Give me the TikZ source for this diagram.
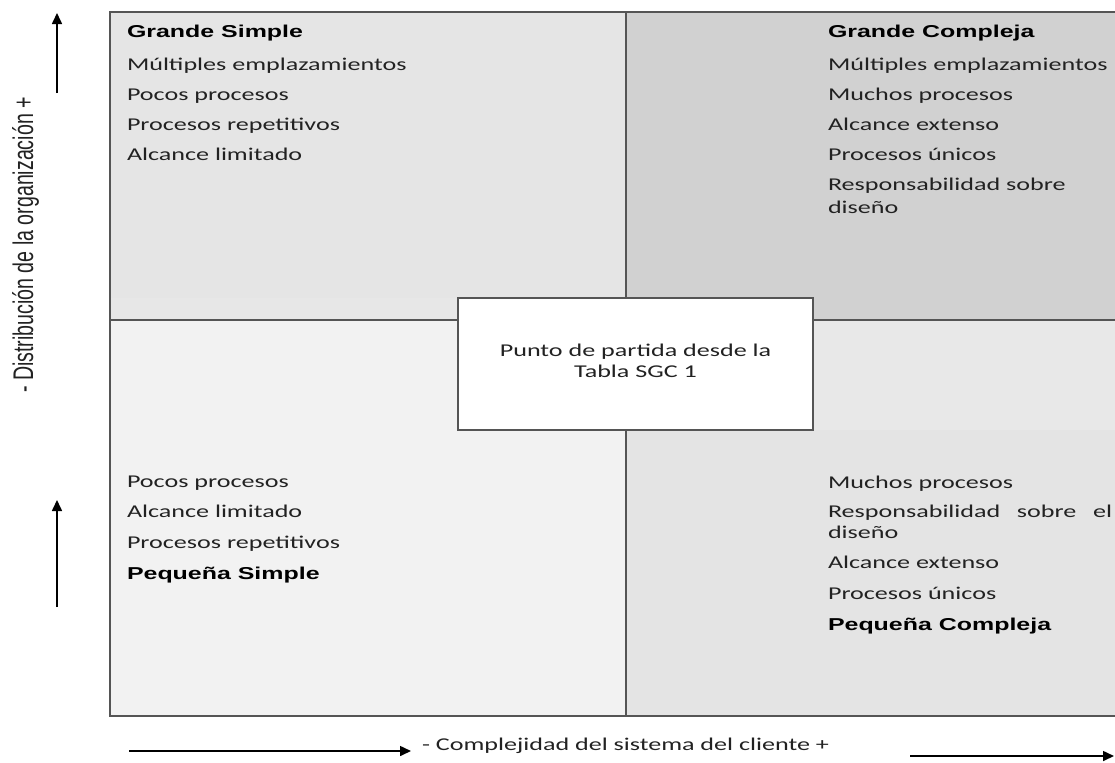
\documentclass[tikz,border=0pt]{standalone}
\usepackage{fontspec}
\setmainfont{Carlito}
\newfontfamily\headfont{Liberation Sans}
\newfontfamily\axisfont{Liberation Sans}
\usetikzlibrary{arrows.meta}
\definecolor{txtgray}{HTML}{222222}
\definecolor{linegray}{HTML}{555555}
\definecolor{ulgray}{HTML}{E5E5E5}
\definecolor{ulband}{HTML}{E7E7E7}
\definecolor{urgray}{HTML}{D1D1D1}
\definecolor{llgray}{HTML}{F2F2F2}
\definecolor{lrband}{HTML}{E8E8E8}
\definecolor{lrgray}{HTML}{E4E4E4}

\begin{document}
\begin{tikzpicture}[x=0.5pt, y=-0.5pt]
			\tikzstyle{every node}=[inner sep=0pt, outer sep=0pt]
			\tikzstyle{item}=[anchor=base west, xscale=1.45, transform shape, text=txtgray, font=\fontsize{9}{10.5}\selectfont]
			\tikzstyle{head}=[anchor=base west, xscale=1.45, transform shape, text=black, font=\headfont\bfseries\fontsize{8.6}{10}\selectfont]
			\tikzstyle{frame}=[draw=linegray, line width=1pt]
			\tikzstyle{axarrow}=[line width=0.8pt, -{Triangle[length=5.5pt, width=5pt]}]
			\useasboundingbox (0,0) rectangle (1115,762);
			% quadrants
			\fill[ulgray] (110,12) rectangle (626,298);
			\fill[ulband] (110,298) rectangle (626,320);
			\fill[urgray] (626,12) rectangle (1115,320);
			\fill[llgray] (110,320) rectangle (626,716);
			\fill[lrband] (626,320) rectangle (1115,430);
			\fill[lrgray] (626,430) rectangle (1115,716);
			\draw[frame] (1120,12) -- (110,12) -- (110,716) -- (1120,716);
			\draw[frame] (626,12) -- (626,716);
			\draw[frame] (110,320) -- (1120,320);
			% centre box
			\node[draw=linegray, line width=1pt, fill=white, minimum width=177.5pt, minimum height=66pt] (start) at (635.5,364) {};
			\node[item, anchor=center, align=center] (starttxt) at (635.5,361) {Punto de partida desde la\\Tabla SGC 1};
			% upper left
			\node[head] (gs) at (127,37) {Grande Simple};
			\foreach \txt/\yy in {Múltiples emplazamientos/70, Pocos procesos/100, Procesos repetitivos/130, Alcance limitado/160}
				\node[item] (gs-\yy) at (127,\yy) {\txt};
			% upper right
			\node[head] (gc) at (828,37) {Grande Compleja};
			\foreach \txt/\yy in {Múltiples emplazamientos/70, Muchos procesos/100, Alcance extenso/130, Procesos únicos/160, Responsabilidad sobre/190, diseño/213}
				\node[item] (gc-\yy) at (828,\yy) {\txt};
			% lower left
			\foreach \txt/\yy in {Pocos procesos/487, Alcance limitado/517, Procesos repetitivos/548}
				\node[item] (ps-\yy) at (127,\yy) {\txt};
			\node[head] (ps) at (127,579) {Pequeña Simple};
			% lower right
			\node[item] (pc-488) at (828,488) {Muchos procesos};
			\node[item] (pc-517) at (828,517) {\makebox[98pt][s]{Responsabilidad sobre el}};
			\foreach \txt/\yy in {diseño/538, Alcance extenso/568, Procesos únicos/599}
				\node[item] (pc-\yy) at (828,\yy) {\txt};
			\node[head] (pc) at (828,630) {Pequeña Compleja};
			% axes
			\node[anchor=base, xscale=1.45, rotate=90, transform shape, text=txtgray, font=\axisfont\fontsize{9.8}{12}\selectfont] (ylabel) at (33,245) {- Distribución de la organización +};
			\node[item] (xlabel) at (422,750) {- Complejidad del sistema del cliente +};
			\coordinate (yup0) at (57,93);
			\coordinate (yup1) at (57,13);
			\coordinate (ydn0) at (57,607);
			\coordinate (ydn1) at (57,500);
			\coordinate (xl0) at (129,751);
			\coordinate (xl1) at (411,751);
			\coordinate (xr0) at (910,756);
			\coordinate (xr1) at (1114,756);
			\draw[axarrow] (yup0) -- (yup1);
			\draw[axarrow] (ydn0) -- (ydn1);
			\draw[axarrow] (xl0) -- (xl1);
			\draw[axarrow] (xr0) -- (xr1);
	\end{tikzpicture}
\end{document}
